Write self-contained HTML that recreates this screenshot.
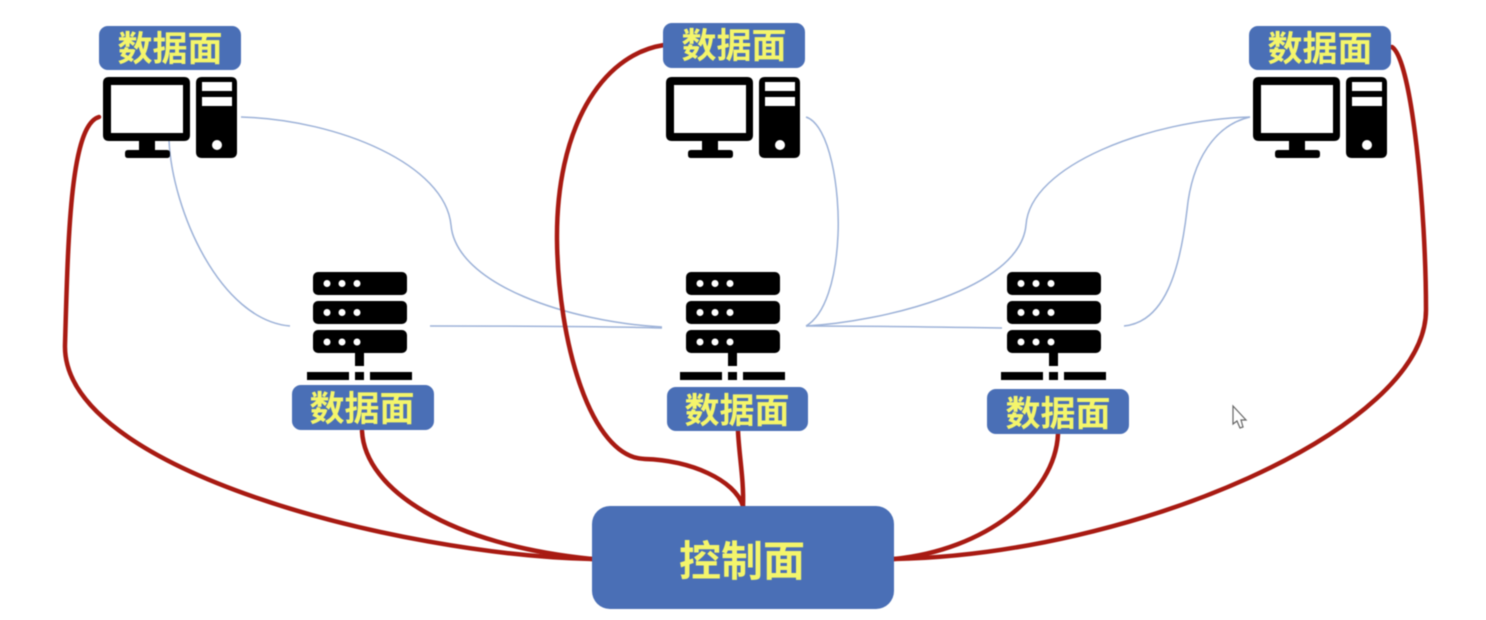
<!DOCTYPE html>
<html><head><meta charset="utf-8">
<style>
html,body{margin:0;padding:0;background:#fff;width:1486px;height:620px;overflow:hidden}
svg{display:block;filter:blur(0.5px)}
text{font-family:"Liberation Sans","Noto Sans CJK SC",sans-serif;font-weight:700;fill:#f4f56b;text-anchor:middle}
</style></head><body>
<svg width="1486" height="620" viewBox="0 0 1486 620" xmlns="http://www.w3.org/2000/svg">
<defs>
<g id="pc">
<path fill-rule="evenodd" d="M109 77H184Q190 77 190 83V135Q190 141 184 141H155V150H167Q170 150 170 153V155Q170 158 167 158H128Q125 158 125 155V153Q125 150 128 150H139V141H109Q103 141 103 135V83Q103 77 109 77ZM111 85V133H183V85Z" fill="#000"/>
<path fill-rule="evenodd" d="M202 77H231Q237 77 237 83V152Q237 158 231 158H202Q196 158 196 152V83Q196 77 202 77ZM202 82V91H232V82ZM202 97V106H232V97Z" fill="#000"/>
<circle cx="217" cy="145" r="5" fill="#fff"/>
</g>
<g id="srv">
<rect x="313" y="272" width="94" height="23" rx="5" fill="#000"/>
<rect x="313" y="301" width="94" height="23" rx="5" fill="#000"/>
<rect x="313" y="330" width="94" height="23" rx="5" fill="#000"/>
<g fill="#fff">
<circle cx="327" cy="283.500" r="3.500"/><circle cx="342" cy="283.500" r="3.500"/><circle cx="357" cy="283.500" r="3.500"/>
<circle cx="327" cy="312.500" r="3.500"/><circle cx="342" cy="312.500" r="3.500"/><circle cx="357" cy="312.500" r="3.500"/>
<circle cx="327" cy="342" r="3.500"/><circle cx="342" cy="342" r="3.500"/><circle cx="357" cy="342" r="3.500"/>
</g>
<rect x="355" y="353" width="9" height="13" fill="#000"/>
<rect x="307" y="372" width="42" height="8" fill="#000"/>
<rect x="355" y="372" width="9" height="8" fill="#000"/>
<rect x="370" y="372" width="42" height="8" fill="#000"/>
</g>
</defs>

<!-- thin blue links -->
<g fill="none" stroke="#9db2d8" stroke-width="1.500">
<path d="M169 140C172 210 220 320 290 326"/>
<path d="M241 117C340 120 445 165 451 225C456 285 570 322 662 327"/>
<path d="M430 326C510 326 590 326 662 328"/>
<path d="M806 117C830 125 840 190 838 235C836 280 825 315 806 326"/>
<path d="M806 326C880 322 1020 290 1026 225C1030 165 1150 120 1250 117"/>
<path d="M806 326C870 326 940 327 1002 328"/>
<path d="M1124 326C1165 322 1180 270 1187 210C1192 160 1215 125 1250 117"/>
</g>

<!-- red links -->
<g fill="none" stroke="#a81a12" stroke-width="4.500" stroke-linecap="round">
<path d="M99 117C70 125 68 240 65 345C62 470 400 555 592 559"/>
<path d="M362 431C365 490 450 545 592 559"/>
<path d="M664 45C600 55 556 130 557 240C558 340 590 458 645 459C690 460 735 480 743 506"/>
<path d="M738 431C739 455 744 480 743 506"/>
<path d="M1058 434C1055 495 985 550 894 559"/>
<path d="M1392 47C1412 60 1426 210 1426 310C1426 430 1130 555 894 559"/>
</g>

<!-- computers -->
<use href="#pc"/>
<use href="#pc" x="563"/>
<use href="#pc" x="1150"/>

<!-- servers -->
<use href="#srv"/>
<use href="#srv" x="373"/>
<use href="#srv" x="694"/>

<!-- data plane labels -->
<g fill="#4a6fb6">
<rect x="99" y="26" width="142" height="44" rx="9"/>
<rect x="663" y="23" width="142" height="45" rx="9"/>
<rect x="1249" y="26" width="142" height="44" rx="9"/>
<rect x="292" y="385" width="142" height="45" rx="9"/>
<rect x="667" y="387" width="141" height="44" rx="9"/>
<rect x="987" y="389" width="142" height="45" rx="9"/>
<rect x="592" y="506" width="302" height="103" rx="18"/>
</g>
<g font-size="35">
<text x="170" y="61">数据面</text>
<text x="734" y="58">数据面</text>
<text x="1320" y="61">数据面</text>
<text x="362" y="421">数据面</text>
<text x="737" y="423">数据面</text>
<text x="1058" y="426">数据面</text>
</g>
<text x="742" y="576" font-size="42">控制面</text>

<!-- cursor -->
<path d="M1233 406V424L1237 421L1240 428L1243 427L1241 420L1246 420Z" fill="#fff" stroke="#666" stroke-width="1.200"/>
</svg>
</body></html>
